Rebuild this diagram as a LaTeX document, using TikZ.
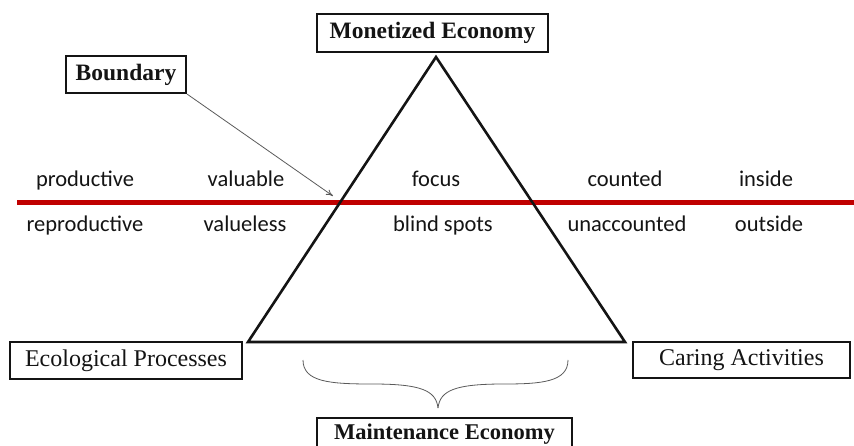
\documentclass[tikz,border=0pt]{standalone}
\usepackage{fontspec}
\setmainfont{Liberation Serif}
\newfontfamily\calfont{Carlito}
\usetikzlibrary{arrows.meta}
\definecolor{bred}{RGB}{192,0,0}
\definecolor{ink}{RGB}{20,20,20}
\definecolor{thin}{RGB}{90,90,90}
\tikzset{
  box/.style={draw=ink, line width=2.2pt, fill=white, inner sep=0pt, text=ink},
  boldbox/.style={box, font=\fontsize{23.5}{26}\selectfont\bfseries},
  plainbox/.style={box, font=\fontsize{24}{26}\selectfont},
  word/.style={font=\calfont\fontsize{22.5}{24}\selectfont, text=ink, inner sep=0pt, text height=15pt, text depth=5pt},
  triline/.style={draw=ink, line width=2.6pt, line join=miter},
  thinline/.style={draw=thin, line width=0.8pt},
}
\begin{document}
\begin{tikzpicture}[x=1pt,y=-1pt]
\useasboundingbox (0,0) rectangle (854,446);
\clip (0,0) rectangle (854,446);
% boundary line
\coordinate (rl) at (17,203);
\coordinate (rr) at (856,203);
\draw[bred, line width=5pt] (rl) -- (rr);
% triangle
\coordinate (apex) at (436,57);
\coordinate (bl) at (248,342);
\coordinate (br) at (625,342);
\draw[triline] (apex) -- (bl) -- (br) -- cycle;
% boxes
\node[boldbox, minimum width=231pt, minimum height=38pt] (mon) at (432.5,33) {Monetized Economy};
\node[boldbox, minimum width=120pt, minimum height=37pt] (bnd) at (126,74.5) {Boundary};
\node[plainbox, minimum width=232pt, minimum height=37pt] (eco) at (126,360.5) {Ecological Processes};
\node[plainbox, minimum width=217pt, minimum height=36pt] (car) at (741.5,360) {Caring Activities};
\node[boldbox, font=\fontsize{22.5}{25}\selectfont\bfseries, minimum width=255pt, minimum height=34pt, text height=15pt, text depth=6pt, anchor=north] (mai) at (444.5,417) {Maintenance Economy};
% arrow from Boundary
\coordinate (btip) at (333,196);
\draw[thinline, -{To[length=7pt,width=6pt]}] (bnd.south east) -- (btip);
% brace
\coordinate (brl) at (303,360);
\coordinate (brr) at (568,360);
\coordinate (brt) at (438,408);
\draw[thinline] (brl) .. controls (303,382) and (330,384) .. (372,384)
  .. controls (420,384) and (436,390) .. (brt);
\draw[thinline] (brr) .. controls (568,382) and (541,384) .. (504,384)
  .. controls (456,384) and (440,390) .. (brt);
% words
\node[word] (w1) at (85,182) {productive};
\node[word] (w2) at (246,182) {valuable};
\node[word] (w3) at (436,182) {focus};
\node[word] (w4) at (625,182) {counted};
\node[word] (w5) at (766,182) {inside};
\node[word] (v1) at (85,227) {reproductive};
\node[word] (v2) at (245,227) {valueless};
\node[word] (v3) at (443,227) {blind spots};
\node[word] (v4) at (627,227) {unaccounted};
\node[word] (v5) at (769,227) {outside};
\end{tikzpicture}
\end{document}
